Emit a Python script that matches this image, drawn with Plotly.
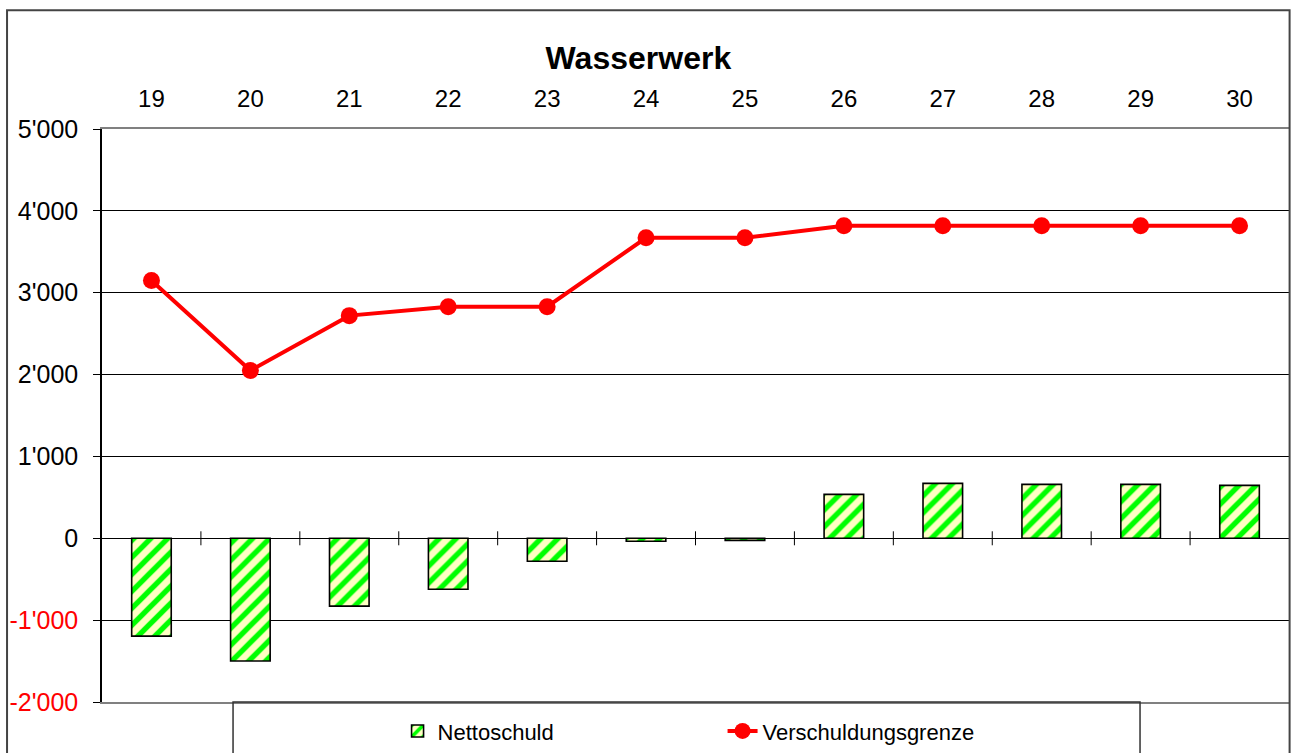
import plotly.graph_objects as go

years = ["19", "20", "21", "22", "23", "24", "25", "26", "27", "28", "29", "30"]
nettoschuld = [-1195, -1500, -829, -622, -280, -37, -25, 537, 671, 659, 659, 646]
verschuldungsgrenze = [3150, 2049, 2720, 2829, 2829, 3671, 3671, 3817, 3817, 3817, 3817, 3817]
y_ticks = [-2000, -1000, 0, 1000, 2000, 3000, 4000, 5000]


def fmt(v):
    s = f"{abs(v):,}".replace(",", "'")
    if v < 0:
        return f"<span style='color:#FF0000'>-{s}</span>"
    return s


FONT = "Liberation Sans, Arial, sans-serif"

fig = go.Figure()
fig.add_trace(go.Bar(
    x=years, y=nettoschuld, name="Nettoschuld", width=0.4,
    marker=dict(color="#FFFFC4", line=dict(color="black", width=1.6),
                pattern=dict(shape="/", fgcolor="#00FF00", bgcolor="#FFFFC4",
                             size=12, solidity=0.45, fillmode="overlay",
                             fgopacity=1)),
))
fig.add_trace(go.Scatter(
    x=years, y=verschuldungsgrenze, name="Verschuldungsgrenze", mode="lines+markers",
    line=dict(color="#FF0000", width=4), marker=dict(color="#FF0000", size=17),
))

shapes = []
# cross ticks on the zero line between categories
for i in range(len(years) - 1):
    shapes.append(dict(type="line", xref="x", yref="y", x0=i + 0.5, x1=i + 0.5,
                       ysizemode="pixel", yanchor=0, y0=-7, y1=7,
                       line=dict(color="black", width=1)))
# outer chart border
shapes.append(dict(type="rect", xref="paper", yref="paper",
                   x0=-0.080, x1=1.0005, y0=-0.2, y1=1.2073,
                   line=dict(color="#444444", width=2)))
# legend box
shapes.append(dict(type="rect", xref="paper", yref="paper",
                   x0=0.1104, x1=0.8745, y0=-0.2, y1=0,
                   line=dict(color="#333333", width=1.5)))

fig.update_layout(
    width=1291, height=753,
    margin=dict(l=102, r=2, t=129, b=50),
    paper_bgcolor="white", plot_bgcolor="white",
    font=dict(family=FONT, color="black", size=24),
    title=dict(text="<b>Wasserwerk</b>", x=0.4945, xanchor="center",
               y=1 - 58 / 753, yanchor="middle", font=dict(size=32, family=FONT)),
    showlegend=True,
    legend=dict(orientation="h", x=0.249, xanchor="left", y=-0.049, yanchor="middle",
                font=dict(size=22, family=FONT), bgcolor="rgba(0,0,0,0)",
                entrywidth=280, entrywidthmode="pixels", itemwidth=30,
                traceorder="normal"),
    bargap=0.6,
    shapes=shapes,
)
fig.update_xaxes(
    type="category", side="top", range=[-0.5, len(years) - 0.5],
    showgrid=False, ticks="", showline=True, mirror=True,
    linecolor="#808080", linewidth=2, tickfont=dict(size=24),
    ticklabelstandoff=10, zeroline=False,
)
fig.update_yaxes(
    range=[-2000, 5000], tickvals=y_ticks, ticktext=[fmt(v) for v in y_ticks],
    showgrid=True, gridcolor="black", gridwidth=1,
    zeroline=True, zerolinecolor="black", zerolinewidth=1,
    showline=True, linecolor="black", linewidth=1.5,
    ticks="outside", ticklen=7, tickcolor="black", tickfont=dict(size=25),
    ticklabelstandoff=10,
)

fig.write_html("out.html", config={"displayModeBar": False},
               post_script="document.body.style.margin='0';document.body.style.overflow='hidden';")
